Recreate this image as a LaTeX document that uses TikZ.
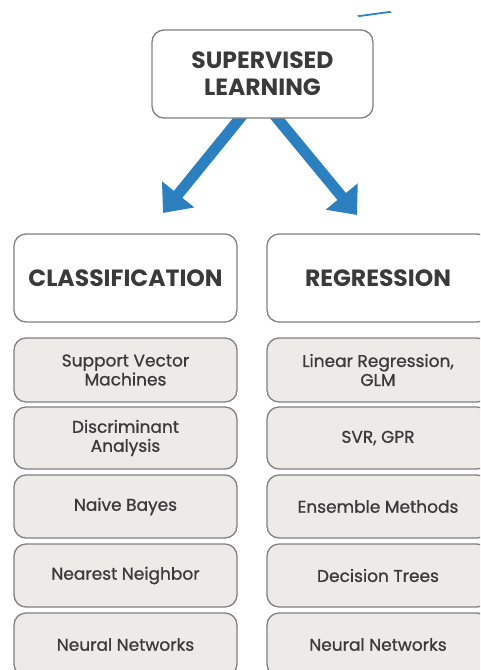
\documentclass[tikz,border=0pt]{standalone}
\usepackage{fontspec}
\setmainfont{Poppins}
\newfontfamily\itemfont{Poppins}[FakeBold=0.9]
\usetikzlibrary{arrows.meta,backgrounds}
\definecolor{arrowblue}{RGB}{44,128,192}
\definecolor{boxline}{RGB}{128,128,128}
\definecolor{itemfill}{RGB}{237,235,232}
\definecolor{inktext}{RGB}{58,58,58}
\tikzset{
  headbox/.style={draw=boxline, line width=1.3pt, rounded corners=12pt, fill=white,
    text=inktext, font=\bfseries\fontsize{23.5}{27}\selectfont, align=center, inner sep=0pt},
  itembox/.style={draw=boxline, line width=1.3pt, rounded corners=12pt, fill=itemfill,
    text=inktext, font=\itemfont\fontsize{17}{19}\selectfont, align=center, inner sep=0pt},
  bigarrow/.style={draw=arrowblue, line width=11pt,
    -{Triangle[length=24pt,width=40pt]}, arrowblue}
}
\begin{document}
\begin{tikzpicture}[x=1pt,y=-1pt]
  \useasboundingbox (0,0) rectangle (480,670);
  \clip (0,0) rectangle (480,670);

  % top box
  \node[headbox, minimum width=221pt, minimum height=88pt] (sup) at (262.5,74) {SUPERVISED\\LEARNING};

  % category headers
  \node[headbox, minimum width=223pt, minimum height=88pt] (cls) at (125.5,278) {CLASSIFICATION};
  \node[headbox, minimum width=222pt, minimum height=88pt] (reg) at (378,278) {REGRESSION};

  % classification methods
  \node[itembox, minimum width=223pt, minimum height=64pt] (c1) at (125.5,370) {Support Vector\\Machines};
  \node[itembox, minimum width=223pt, minimum height=62pt] (c2) at (125.5,438) {Discriminant\\Analysis};
  \node[itembox, minimum width=223pt, minimum height=63pt] (c3) at (125.5,506.5) {Naive Bayes};
  \node[itembox, minimum width=223pt, minimum height=63pt] (c4) at (125.5,575.5) {Nearest Neighbor};
  \node[itembox, minimum width=223pt, minimum height=63pt] (c5) at (125.5,644.5) {Neural Networks};

  % regression methods
  \node[itembox, minimum width=222pt, minimum height=64pt] (r1) at (378,370) {Linear Regression,\\GLM};
  \node[itembox, minimum width=222pt, minimum height=62pt] (r2) at (378,438) {SVR, GPR};
  \node[itembox, minimum width=222pt, minimum height=63pt] (r3) at (378,506.5) {Ensemble Methods};
  \node[itembox, minimum width=222pt, minimum height=63pt] (r4) at (378,575.5) {Decision Trees};
  \node[itembox, minimum width=222pt, minimum height=63pt] (r5) at (378,644.5) {Neural Networks};

  % arrows from the top box down to the two categories
  \coordinate (lstart) at ([xshift=-18pt,yshift=6pt]sup.south);
  \coordinate (rstart) at ([xshift=10pt,yshift=6pt]sup.south);
  \coordinate (ltip) at (163,213);
  \coordinate (rtip) at (357,215);
  \begin{scope}[on background layer]
    \draw[bigarrow] (lstart) -- (ltip);
    \draw[bigarrow] (rstart) -- (rtip);
    % stray stroke near the top edge
    \fill[arrowblue] (357,15.5) -- (390,11) -- (392,12.5) -- (359,17) -- cycle;
  \end{scope}
\end{tikzpicture}
\end{document}
